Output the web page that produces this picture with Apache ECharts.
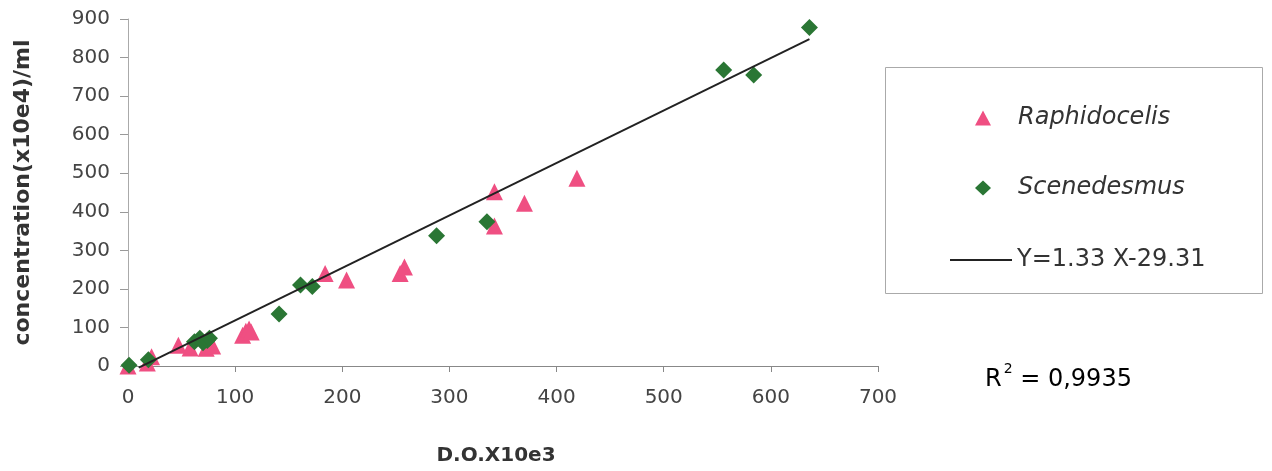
<!DOCTYPE html>
<html>
<head>
<meta charset="utf-8">
<title>concentration vs D.O.</title>
<script src="https://cdn.jsdelivr.net/npm/echarts@6/dist/echarts.min.js"></script>
<style>
  html, body { margin: 0; padding: 0; background: #fff; }
  #chart { width: 1272px; height: 471px; }
</style>
</head>
<body>
<div id="chart"></div>
<script>
// points: [D.O. x10e3, concentration x10e4/ml]
var raphidocelis = [
  [0, 0], [18, 8], [22, 24], [47, 54], [58, 47], [73, 46], [79, 52],
  [107, 80], [110, 90], [113, 96], [115, 88],
  [184, 240], [204, 223], [254, 240], [258, 257],
  [342, 452], [342, 363], [370, 422], [419, 487]
];
var scenedesmus = [
  [1, 2], [19, 16], [62, 63], [67, 72], [70, 60], [74, 66], [76, 72],
  [141, 135], [161, 210], [172, 206], [288, 338], [335, 374],
  [556, 768], [584, 755], [636, 878]
];
// fitted line, ends
var fitLine = [[10, -4], [636, 848]];
var fitLabel = 'Y=1.33 X-29.31';
var r2Value = '0,9935';

var xTicks = { min: 0, max: 700, interval: 100 };
var yTicks = { min: 0, max: 900, interval: 100 };

var chart = echarts.init(document.getElementById('chart'));

var FONT = 'DejaVu Sans, Verdana, sans-serif';
var axisText = { color: '#444', fontSize: 20, fontFamily: FONT };

// second copy of each axis only draws the inner half of the ticks
function innerTicks(t, color) {
  return {
    type: 'value', min: t.min, max: t.max, interval: t.interval,
    axisLine: { show: false },
    axisTick: { show: true, inside: true, length: 5, lineStyle: { color: color } },
    axisLabel: { show: false },
    splitLine: { show: false }
  };
}

var option = {
  animation: false,
  backgroundColor: '#fff',
  grid: { left: 128, right: 394, top: 19, bottom: 105 },
  xAxis: [
    {
      type: 'value',
      min: xTicks.min, max: xTicks.max, interval: xTicks.interval,
      name: 'D.O.X10e3',
      nameLocation: 'middle',
      nameGap: 80,
      nameTextStyle: { color: '#333', fontSize: 20, fontWeight: 'bold', fontFamily: FONT, padding: [0, 14, 0, 0] },
      axisLine: { lineStyle: { color: '#888', width: 1 } },
      axisTick: { show: true, length: 6, lineStyle: { color: '#888' } },
      axisLabel: Object.assign({ margin: 22 }, axisText),
      splitLine: { show: false }
    },
    innerTicks(xTicks, '#888')
  ],
  yAxis: [
    {
      type: 'value',
      min: yTicks.min, max: yTicks.max, interval: yTicks.interval,
      name: 'concentration(x10e4)/ml',
      nameLocation: 'middle',
      nameRotate: 90,
      nameGap: 94,
      nameTextStyle: { color: '#333', fontSize: 22, fontWeight: 'bold', fontFamily: FONT },
      axisLine: { show: true, lineStyle: { color: '#aaa', width: 1 } },
      axisTick: { show: true, length: 8, lineStyle: { color: '#999' } },
      axisLabel: Object.assign({ margin: 18 }, axisText),
      splitLine: { show: false }
    },
    innerTicks(yTicks, '#999')
  ],
  legend: [
    {
      orient: 'vertical',
      left: 970, top: 101,
      itemGap: 46,
      itemWidth: 16, itemHeight: 15,
      data: [
        { name: 'Raphidocelis', icon: 'triangle' },
        { name: 'Scenedesmus', icon: 'diamond' }
      ],
      textStyle: { color: '#333', fontSize: 24, lineHeight: 24, fontStyle: 'italic', fontFamily: FONT, padding: [0, 0, 0, 22] }
    },
    {
      left: 945, top: 243,
      itemWidth: 62, itemHeight: 2,
      itemGap: 0,
      data: [{ name: fitLabel, icon: 'rect' }],
      textStyle: { color: '#333', fontSize: 24, lineHeight: 24, fontFamily: FONT }
    }
  ],
  graphic: [
    {
      type: 'rect',
      shape: { x: 885.5, y: 67.5, width: 377, height: 226 },
      style: { fill: 'none', stroke: '#aaa', lineWidth: 1 },
      silent: true
    },
    {
      type: 'text',
      left: 985, top: 362,
      style: {
        text: '{b|R}{s|2}{b| = ' + r2Value + '}',
        rich: {
          b: { fontSize: 24, lineHeight: 30, color: '#333', fontFamily: FONT, verticalAlign: 'bottom' },
          s: { fontSize: 14, lineHeight: 14, color: '#333', fontFamily: FONT, verticalAlign: 'top', padding: [0, 0, 0, 2] }
        }
      }
    }
  ],
  series: [
    {
      name: 'Raphidocelis',
      type: 'scatter',
      symbol: 'triangle',
      symbolSize: 17,
      itemStyle: { color: '#ef4f82', opacity: 1 },
      data: raphidocelis,
      z: 2
    },
    {
      name: 'Scenedesmus',
      type: 'scatter',
      symbol: 'diamond',
      symbolSize: 17,
      itemStyle: { color: '#2a7634', opacity: 1 },
      data: scenedesmus,
      z: 3
    },
    {
      name: fitLabel,
      type: 'line',
      showSymbol: false,
      clip: false,
      lineStyle: { color: '#222', width: 2 },
      itemStyle: { color: '#222' },
      data: fitLine,
      z: 4
    }
  ]
};

chart.setOption(option);
</script>
</body>
</html>
